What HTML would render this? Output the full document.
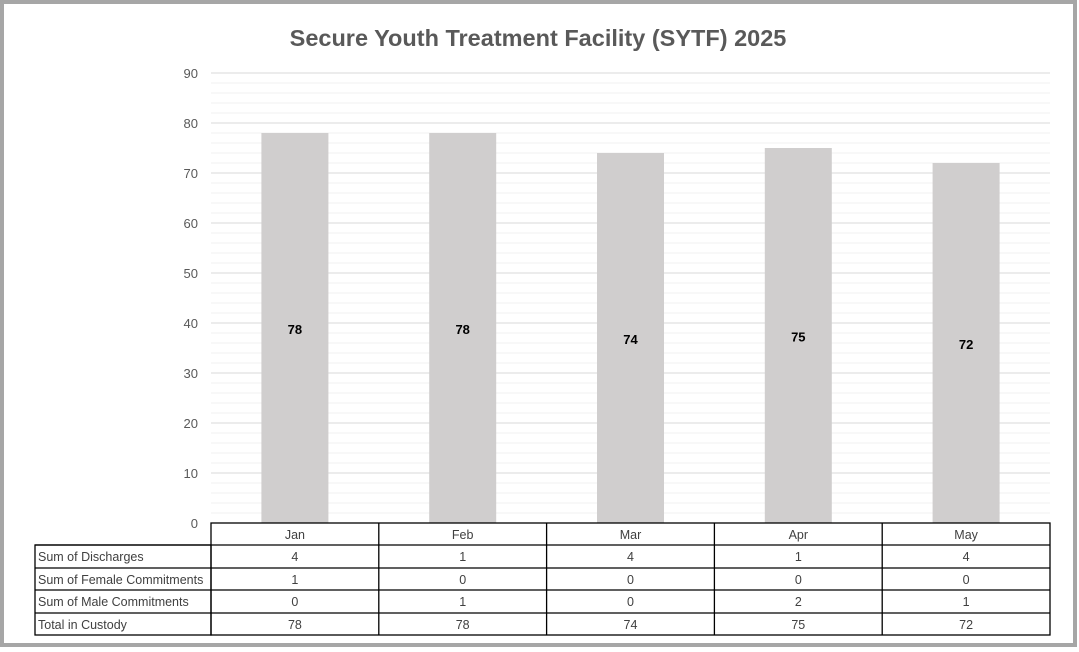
<!DOCTYPE html>
<html><head><meta charset="utf-8"><style>
body{margin:0;background:#fff;}
svg{display:block;font-family:"Liberation Sans",sans-serif;}
</style></head><body>
<svg width="1079" height="652">
<rect x="2" y="2" width="1073" height="643" fill="#fff" stroke="#a6a6a6" stroke-width="4"/>
<text x="538" y="46" text-anchor="middle" font-size="23.5" font-weight="bold" fill="#595959">Secure Youth Treatment Facility (SYTF) 2025</text>
<g id="grid"></g><g id="bars"></g><g id="table"></g>
</svg>
<script>
const categories=["Jan","Feb","Mar","Apr","May"];
const totals=[78,78,74,75,72];
const discharges=[4,1,4,1,4];
const female=[1,0,0,0,0];
const male=[0,1,0,2,1];
const yTicks=[0,10,20,30,40,50,60,70,80,90];
const NS="http://www.w3.org/2000/svg";
const x0=211,x1=1050,y0=523,yTop=73,yMax=90;
const bw=(x1-x0)/categories.length;
const y=v=>y0-(v/yMax)*(y0-yTop);
function mk(t,a,p){const e=document.createElementNS(NS,t);for(const k in a)e.setAttribute(k,a[k]);p.appendChild(e);return e;}
const g=document.getElementById('grid');
for(let v=2;v<yMax;v+=2){if(v%10)mk('line',{x1:x0,x2:x1,y1:y(v),y2:y(v),stroke:'#f0f0f0','stroke-width':1},g);}
yTicks.forEach(v=>{
 if(v>0){const l=mk('line',{x1:x0,x2:x1,y1:y(v),y2:y(v),stroke:'#d9d9d9','stroke-width':1},g);
 
 }
 const t=mk('text',{x:198,y:y(v)+5,'text-anchor':'end','font-size':13,fill:'#595959'},g);t.textContent=v;
 
 
});
const b=document.getElementById('bars');
categories.forEach((c,i)=>{
 const cx=x0+bw*(i+0.5);
 const r=mk('rect',{x:cx-33.5,y:y(totals[i]),width:67,height:y0-y(totals[i]),fill:'#d0cece'},b);
 
 
 const t=mk('text',{x:cx,y:y(totals[i]/2)+6,'text-anchor':'middle','font-size':13,'font-weight':'bold',fill:'#000'},b);t.textContent=totals[i];
 
 
});
const tb=document.getElementById('table');
const rows=[["Sum of Discharges",discharges],["Sum of Female Commitments",female],["Sum of Male Commitments",male],[" Total in Custody",totals]];
const rowY=[523,545,568,590,613,635];
const lx=35;
mk('rect',{x:x0,y:rowY[0],width:x1-x0,height:rowY[5]-rowY[0],fill:'none',stroke:'#000','stroke-width':1.3},tb);
mk('rect',{x:lx,y:rowY[1],width:x0-lx,height:rowY[5]-rowY[1],fill:'none',stroke:'#000','stroke-width':1.3},tb);
for(let k=1;k<5;k++)mk('line',{x1:lx,x2:x1,y1:rowY[k],y2:rowY[k],stroke:'#000','stroke-width':1.3},tb);
categories.forEach((c,i)=>{
 if(i>0)mk('line',{x1:x0+bw*i,x2:x0+bw*i,y1:rowY[0],y2:rowY[5],stroke:'#000','stroke-width':1.3},tb);
 const cx=x0+bw*(i+0.5);
 const h=mk('text',{x:cx,y:rowY[0]+16,'text-anchor':'middle','font-size':12.5,fill:'#404040'},tb);h.textContent=c;
 
 
 rows.forEach((r,k)=>{
  const t=mk('text',{x:cx,y:rowY[k+1]+16,'text-anchor':'middle','font-size':12.5,fill:'#404040'},tb);t.textContent=r[1][i];
  
  
 });
});
rows.forEach((r,k)=>{
 const t=mk('text',{x:lx+3,y:rowY[k+1]+16,'font-size':12.5,fill:'#404040','xml:space':'preserve'},tb);t.textContent=r[0];
 
 
});
</script>
</body></html>
